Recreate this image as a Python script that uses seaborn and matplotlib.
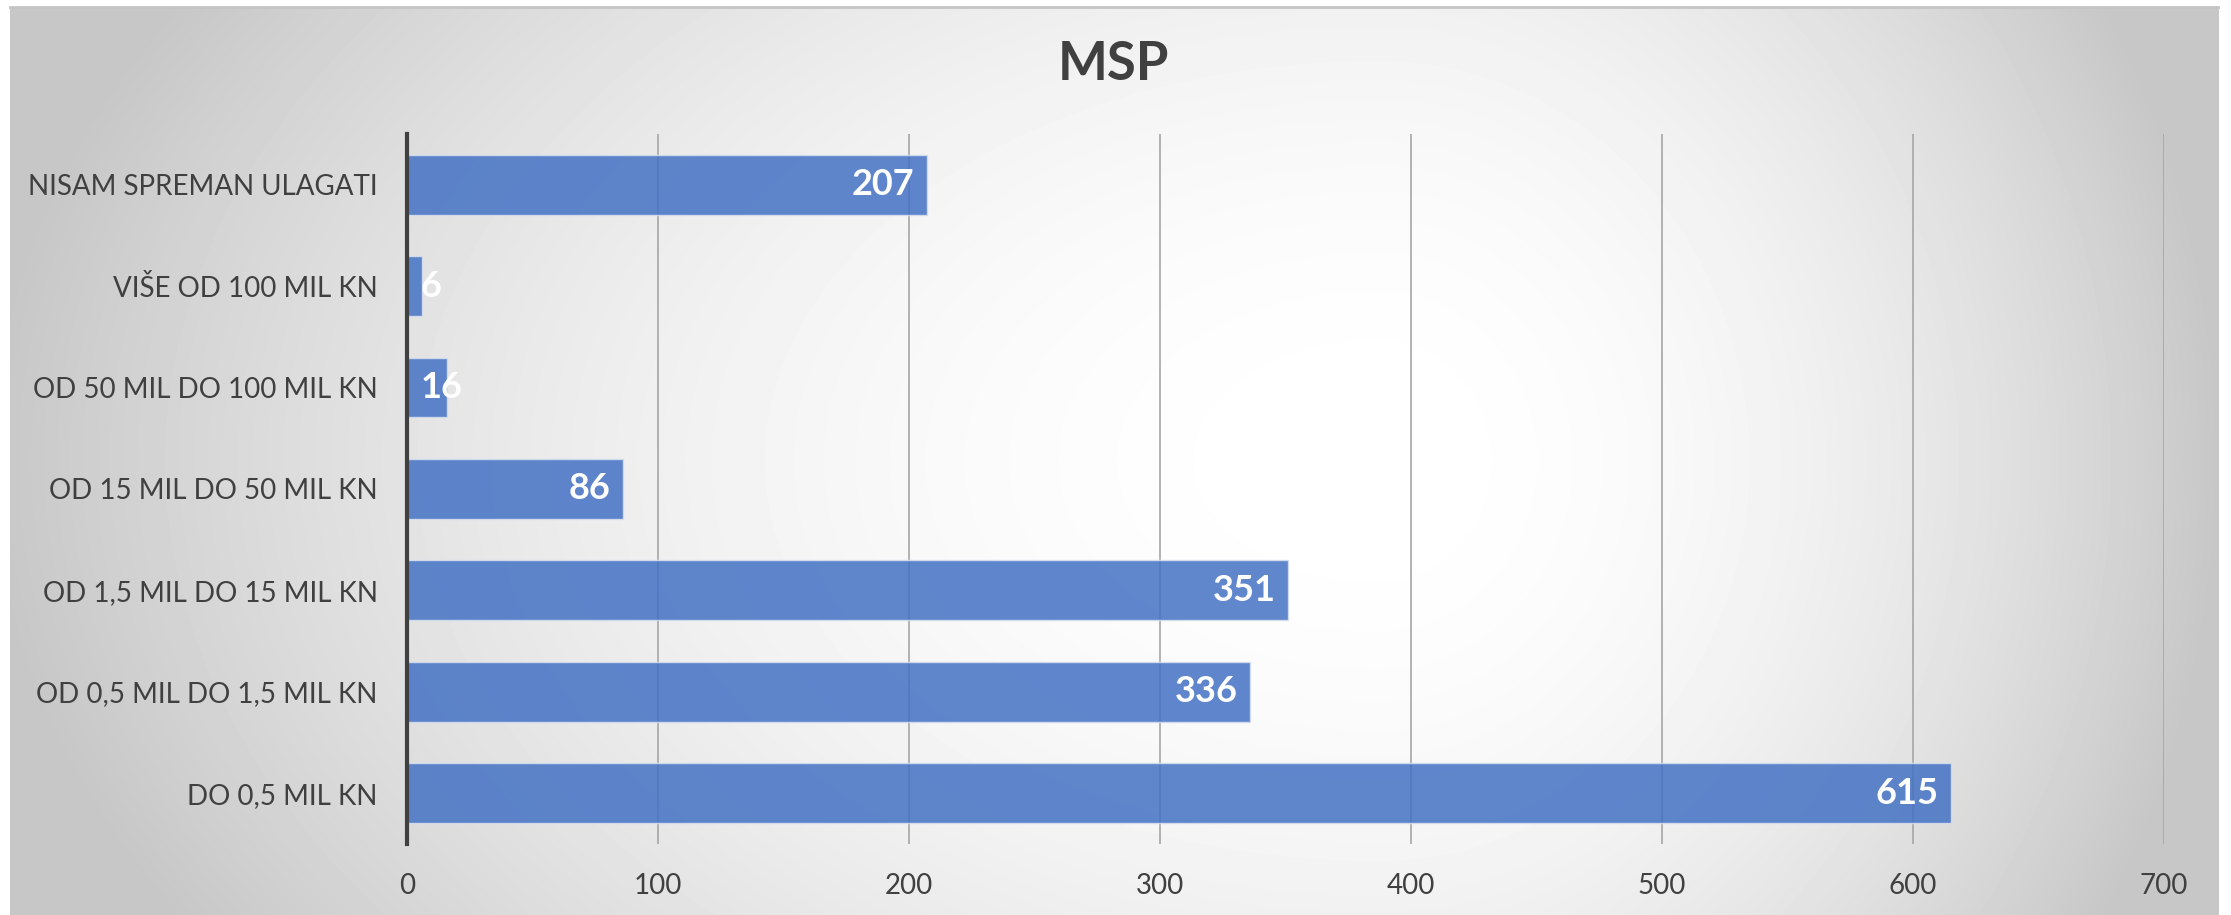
import matplotlib.pyplot as plt
import numpy as np
import seaborn as sns
import pandas as pd

categories = [
    "NISAM SPREMAN ULAGATI",
    "VIŠE OD 100 MIL KN",
    "OD 50 MIL DO 100 MIL KN",
    "OD 15 MIL DO 50 MIL KN",
    "OD 1,5 MIL DO 15 MIL KN",
    "OD 0,5 MIL DO 1,5 MIL KN",
    "DO 0,5 MIL KN",
]
values = [207, 6, 16, 86, 351, 336, 615]
x_ticks = [0, 100, 200, 300, 400, 500, 600, 700]
title = "MSP"


def background(fig):
    # grey edges fading to white a bit right of centre
    bg = fig.add_axes([0.0045, 0.0, 0.9897, 0.9923], zorder=-10)
    xx, yy = np.meshgrid(np.linspace(0, 1, 600), np.linspace(0, 1, 300))
    cx = 0.62
    rx = np.where(xx < cx, 0.63, 0.38)
    d2 = ((xx - cx) / rx) ** 2 + ((yy - 0.5) / 1.0) ** 2
    shade = 1.0 - 0.22 * np.clip(d2, 0, 1)
    bg.imshow(shade, cmap="gray", vmin=0, vmax=1, aspect="auto",
              extent=[0, 1, 0, 1], interpolation="bilinear")
    bg.set_xticks([])
    bg.set_yticks([])
    for s in bg.spines.values():
        s.set_visible(False)
    bg.spines["top"].set_visible(True)
    bg.spines["top"].set_color("#c4c4c4")
    bg.spines["top"].set_linewidth(2)


def plot():
    sns.set_style("white")
    plt.rcParams['font.family'] = ['Lato', 'DejaVu Sans']
    fig = plt.figure(figsize=(22.31, 9.15), dpi=100)
    background(fig)

    df = pd.DataFrame({"cat": categories, "val": values})
    ax = fig.add_axes([0.1824, 0.0776, 0.7876, 0.776])
    ax.patch.set_alpha(0)
    sns.barplot(data=df, x="val", y="cat", orient="h", color="#4472C4",
                alpha=0.85, width=0.59, edgecolor="#d8e0f0", linewidth=1,
                saturation=1, ax=ax, zorder=3)

    ax.set_xlim(0, 700)
    ax.set_ylim(6.5, -0.5)
    ax.set_xticks(x_ticks)
    ax.xaxis.grid(True, color="#a6a6a6", linewidth=1.2, zorder=1)
    ax.set_axisbelow(True)
    ax.tick_params(axis="both", length=0, labelsize=20, labelcolor="#404040")
    ax.tick_params(axis="x", pad=21)
    ax.tick_params(axis="y", pad=21)
    ax.set_xlabel("")
    ax.set_ylabel("")
    for s in ["top", "right", "bottom"]:
        ax.spines[s].set_visible(False)
    ax.spines["left"].set_color("#404040")
    ax.spines["left"].set_linewidth(3)
    ax.spines["left"].set_zorder(5)

    for i, v in enumerate(values):
        if v < 30:
            ax.annotate(str(v), (0, i), xytext=(10, 0), textcoords="offset points",
                        ha="left", va="center", color="white", fontsize=26,
                        fontweight="bold", zorder=6)
        else:
            ax.annotate(str(v), (v, i), xytext=(-9, 0), textcoords="offset points",
                        ha="right", va="center", color="white", fontsize=26,
                        fontweight="bold", zorder=6)

    fig.text(0.499, 0.93, title, ha="center", va="center", fontsize=38,
             fontweight="bold", color="#404040")

    fig.savefig("out.png", dpi=100)


plot()
